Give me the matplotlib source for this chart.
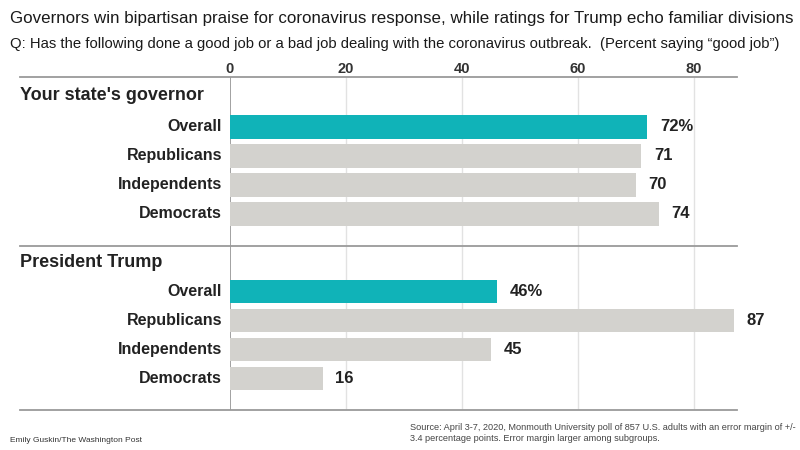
"""
Governor vs. Trump coronavirus ratings, grouped horizontal bars.
"""

import matplotlib.pyplot as plt


# ==========================================================
# Data
# ==========================================================

groups = ["Your state's governor", "President Trump"]
categories = ["Overall", "Republicans", "Independents", "Democrats"]
governor_values = [72, 71, 70, 74]
trump_values = [46, 87, 45, 16]
ticks = [0, 20, 40, 60, 80]

TEAL = "#10b3b8"
GRAY = "#d3d2ce"
LINE = "#9a9a9a"
GRID = "#e2e2e2"

plt.rcParams["font.family"] = ["Liberation Sans", "DejaVu Sans"]


# ==========================================================
# Figure
# ==========================================================

fig = plt.figure(figsize=(8, 4.5), dpi=100)
ax = fig.add_axes([230 / 800, 40 / 450, 507 / 800, 333 / 450])

ax.set_xlim(0, 87.5)
ax.set_ylim(11.48, 0)

for s in ax.spines.values():
    s.set_visible(False)

# vertical gridlines
for t in ticks:
    ax.plot(
        [t, t], [0, 11.48],
        color=LINE if t == 0 else GRID,
        lw=1.3 if t == 0 else 1.0,
        zorder=0,
    )

# horizontal rules: top, separator, bottom
for yy in [0, 5.83, 11.48]:
    ax.axhline(
        yy,
        xmin=-0.414,
        xmax=1.0,
        color=LINE,
        lw=1.3,
        clip_on=False,
        zorder=1,
    )

ax.xaxis.tick_top()
ax.set_xticks(ticks)
ax.set_xticklabels([str(t) for t in ticks], fontsize=10.5,
                   fontweight="bold", color="#333333")
ax.tick_params(axis="x", length=0, pad=1)
ax.set_yticks([])

header_y = [0.655, 6.38]
row_start = [1.72, 7.40]

for g, (name, values) in enumerate(zip(groups, [governor_values, trump_values])):

    ax.text(
        -36.2, header_y[g], name,
        ha="left", va="center",
        fontsize=13, fontweight="bold", color="#222222",
    )

    ys = [row_start[g] + i for i in range(len(categories))]
    colors = [TEAL] + [GRAY] * (len(categories) - 1)

    ax.barh(ys, values, height=0.81, color=colors, zorder=2)

    for i, (y, v) in enumerate(zip(ys, values)):
        ax.text(
            -1.4, y, categories[i],
            ha="right", va="center",
            fontsize=11.5, fontweight="bold", color="#222222",
        )
        label = f"{v}%" if i == 0 else f"{v}"
        ax.text(
            v + 2.2, y, label,
            ha="left", va="center",
            fontsize=12, fontweight="bold", color="#222222",
        )


# ==========================================================
# Titles and notes
# ==========================================================

fig.text(
    10 / 800, 1 - 18 / 450,
    "Governors win bipartisan praise for coronavirus response, "
    "while ratings for Trump echo familiar divisions",
    ha="left", va="center", fontsize=12.2, color="#1a1a1a",
)

fig.text(
    10 / 800, 1 - 44 / 450,
    "Q: Has the following done a good job or a bad job dealing with the "
    "coronavirus outbreak.  (Percent saying \u201cgood job\u201d)",
    ha="left", va="center", fontsize=10.7, color="#1a1a1a",
)

fig.text(
    10 / 800, 1 - 441 / 450,
    "Emily Guskin/The Washington Post",
    ha="left", va="center", fontsize=6, color="#333333",
)

fig.text(
    410 / 800, 1 - 433 / 450,
    "Source: April 3-7, 2020, Monmouth University poll of 857 U.S. adults "
    "with an error margin of +/-\n"
    "3.4 percentage points. Error margin larger among subgroups.",
    ha="left", va="center", fontsize=6.6, color="#444444",
    linespacing=1.2,
)

fig.savefig("out.png", dpi=100)
plt.close(fig)
